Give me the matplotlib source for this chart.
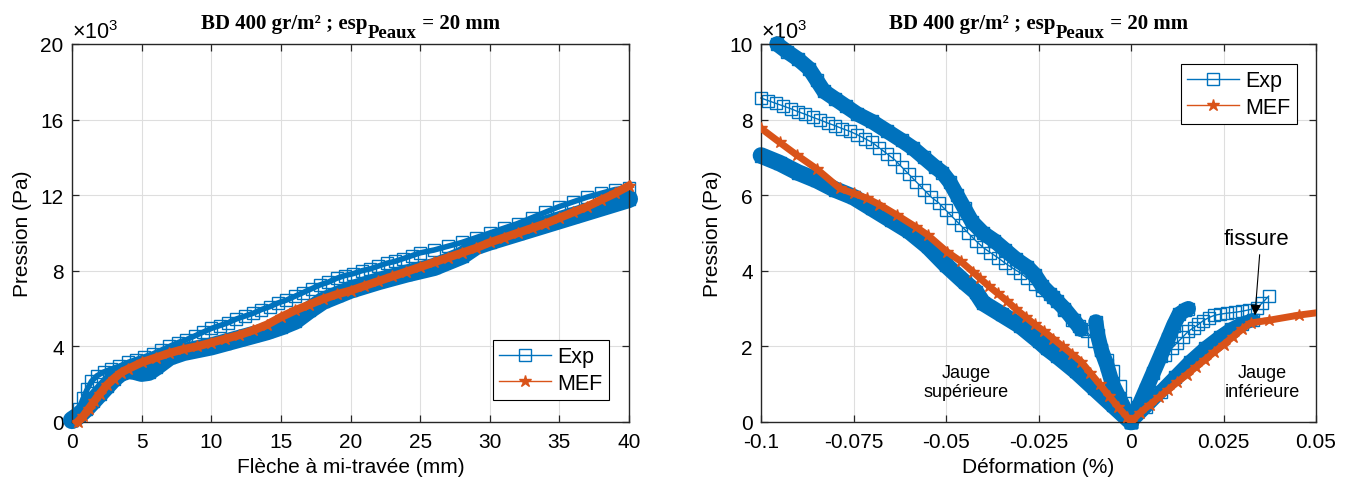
import matplotlib
matplotlib.use("Agg")
import matplotlib.pyplot as plt
from matplotlib.lines import Line2D
from matplotlib.ticker import FuncFormatter

plt.rcParams['font.family'] = ['Liberation Sans', 'DejaVu Sans']
plt.rcParams['mathtext.fontset'] = 'custom'
plt.rcParams['mathtext.rm'] = 'Liberation Sans'

BLUE = '#0072BD'
ORANGE = '#D95319'
DARK = '#262626'

# ---------------- left chart : pression vs fleche (mm, Pa) ----------------
exp_up_x = [0.2, 0.5, 0.8, 1.1, 1.4, 1.8, 2.3, 2.8, 3.4, 4.0, 4.6, 5.2, 5.8, 6.4, 7.0,
            7.6, 8.2, 8.8, 9.4, 10.0, 10.6, 11.2, 11.8, 12.4, 13.0, 13.6, 14.2, 14.8,
            15.4, 16.0, 16.6, 17.2, 17.8, 18.4, 19.0, 19.6, 20.2, 20.8, 21.4, 22.0,
            22.6, 23.2, 23.8, 24.4, 25.0, 26.0, 27.0, 28.0, 29.0, 30.0, 31.0, 32.0,
            33.0, 34.0, 35.0, 36.0, 37.0, 38.0, 39.0, 40.0]
exp_up_y = [200, 700, 1250, 1750, 2150, 2450, 2650, 2800, 2950, 3150, 3300, 3450, 3600,
            3800, 4000, 4200, 4350, 4550, 4750, 4950, 5100, 5250, 5450, 5600, 5750, 5950,
            6100, 6300, 6450, 6650, 6850, 7050, 7250, 7400, 7600, 7750, 7850, 8000, 8100,
            8250, 8400, 8500, 8650, 8800, 8950, 9100, 9300, 9500, 9750, 10000, 10250,
            10500, 10800, 11100, 11400, 11650, 11900, 12100, 12300, 12400]

exp_low_x = [0, 0.5, 1, 1.5, 2, 2.5, 3, 3.5, 4, 4.5, 5, 5.5, 6, 7, 8, 9, 10, 11, 12, 13,
             14, 15, 16, 17, 18, 19, 20, 22, 24, 26, 28, 29, 30, 32, 34, 36, 38, 40]
exp_low_y = [100, 350, 700, 1100, 1500, 1900, 2300, 2600, 2750, 2700, 2600, 2650, 2900,
             3450, 3700, 3850, 4000, 4200, 4400, 4600, 4800, 5050, 5350, 5900, 6400, 6700,
             7000, 7450, 7850, 8200, 8800, 9300, 9550, 10000, 10450, 10900, 11350, 11800]

mef_g_x = [0.4, 0.8, 1.2, 1.6, 2.0, 2.5, 3, 3.5, 4, 5, 6, 7, 8, 9, 10, 11, 12, 13, 14, 15,
           16, 17, 18, 19, 20, 21, 22, 23, 24, 25, 26, 27, 28, 29, 30, 31, 32, 33, 34, 35,
           36, 37, 38, 39, 40]
mef_g_y = [0, 300, 700, 1100, 1500, 1950, 2300, 2600, 2800, 3150, 3400, 3650, 3850, 4000,
           4200, 4400, 4600, 4850, 5150, 5550, 5900, 6200, 6500, 6750, 6950, 7200, 7450,
           7700, 7950, 8200, 8450, 8700, 8950, 9200, 9500, 9750, 10000, 10250, 10500,
           10800, 11100, 11400, 11750, 12100, 12500]

# ---------------- right chart : pression vs deformation (%, Pa) ----------------
exp_sup1_x = [-0.0957, -0.093, -0.09, -0.087, -0.085, -0.083, -0.08, -0.077, -0.074, -0.07,
              -0.066, -0.062, -0.059, -0.056, -0.053, -0.051, -0.049, -0.047, -0.045,
              -0.043, -0.04, -0.037, -0.034, -0.031, -0.028, -0.026, -0.024, -0.021,
              -0.018, -0.0155, -0.0135]
exp_sup1_y = [10000, 9800, 9600, 9350, 9050, 8750, 8550, 8350, 8150, 7950, 7700, 7450,
              7250, 7000, 6750, 6600, 6350, 6000, 5650, 5300, 5000, 4800, 4550, 4300,
              4100, 3900, 3600, 3300, 3000, 2700, 2450]
exp_sup2_x = [-0.0095, -0.009, -0.008, -0.0065, -0.005, -0.003, -0.0015, 0]
exp_sup2_y = [2650, 2300, 1900, 1500, 1000, 600, 300, 0]

exp_sup3_x = [-0.1, -0.098, -0.096, -0.094, -0.092, -0.09, -0.088, -0.086, -0.084, -0.082,
              -0.08, -0.078, -0.076, -0.074, -0.072, -0.07, -0.068, -0.066, -0.064,
              -0.062, -0.06, -0.058, -0.056, -0.054, -0.052, -0.05, -0.048, -0.046,
              -0.044, -0.042, -0.04, -0.038, -0.036, -0.034, -0.032, -0.03, -0.028,
              -0.026, -0.024, -0.022, -0.02, -0.018, -0.016, -0.014, -0.012, -0.01,
              -0.008, -0.0065, -0.005, -0.003, -0.0015, 0]
exp_sup3_y = [8570, 8500, 8430, 8360, 8290, 8210, 8140, 8060, 7990, 7910, 7840, 7760, 7690,
              7600, 7500, 7400, 7250, 7100, 6950, 6750, 6550, 6350, 6150, 5950, 5800,
              5600, 5400, 5200, 5000, 4800, 4620, 4480, 4350, 4200, 4070, 3950, 3800,
              3650, 3500, 3380, 3200, 2950, 2700, 2550, 2400, 2150, 1900, 1650, 1350,
              950, 500, 0]

exp_sup4_x = [-0.1, -0.095, -0.09, -0.085, -0.08, -0.075, -0.07, -0.065, -0.06, -0.055,
              -0.05, -0.045, -0.042, -0.04, -0.035, -0.03, -0.025, -0.0227, -0.02,
              -0.015, -0.01, -0.005, 0]
exp_sup4_y = [7050, 6850, 6600, 6400, 6150, 5950, 5650, 5350, 5050, 4650, 4150, 3700,
              3450, 3150, 2850, 2550, 2150, 1950, 1750, 1350, 900, 450, 0]

exp_inf1_x = [0, 0.002, 0.004, 0.006, 0.008, 0.010, 0.0115, 0.013, 0.0145, 0.0155]
exp_inf1_y = [0, 400, 850, 1300, 1750, 2200, 2550, 2850, 2950, 3000]
exp_inf2_x = [0, 0.004, 0.008, 0.012, 0.016, 0.02, 0.024, 0.027, 0.03, 0.033]
exp_inf2_y = [0, 400, 800, 1200, 1600, 1950, 2250, 2450, 2600, 2700]
exp_inf3_x = [0.0093, 0.011, 0.0125, 0.014, 0.0155, 0.017, 0.0182, 0.0195, 0.021, 0.0225,
              0.024, 0.026, 0.028, 0.03, 0.032, 0.034, 0.0355, 0.0372]
exp_inf3_y = [1760, 1950, 2100, 2250, 2400, 2500, 2580, 2680, 2760, 2820, 2850, 2880,
              2900, 2930, 2970, 3020, 3150, 3330]

mef_d_x = [-0.1, -0.095, -0.0903, -0.085, -0.0787, -0.075, -0.0714, -0.068, -0.0632,
           -0.058, -0.055, -0.0497, -0.046, -0.0427, -0.0408, -0.0385, -0.036, -0.0335,
           -0.031, -0.0285, -0.026, -0.0235, -0.021, -0.0185, -0.016, -0.0135, -0.011,
           -0.0085, -0.006, -0.0035, -0.001, 0, 0.0025, 0.005, 0.0075, 0.01, 0.0125,
           0.015, 0.0175, 0.02, 0.0225, 0.025, 0.0275, 0.03, 0.0323, 0.0372, 0.0455,
           0.055]
mef_d_y = [7770, 7400, 7060, 6700, 6180, 6050, 5920, 5750, 5470, 5150, 4950, 4500, 4250,
           3970, 3800, 3600, 3400, 3200, 2980, 2780, 2580, 2400, 2200, 2000, 1800, 1600,
           1300, 1000, 700, 400, 120, 0, 250, 450, 650, 850, 1050, 1250, 1450, 1650,
           1850, 2050, 2250, 2450, 2620, 2690, 2830, 2950]

xt_left = [0, 5, 10, 15, 20, 25, 30, 35, 40]
yt_left = [0, 4000, 8000, 12000, 16000, 20000]
xt_right = [-0.1, -0.075, -0.05, -0.025, 0, 0.025, 0.05]
xt_right_lab = ['-0.1', '-0.075', '-0.05', '-0.025', '0', '0.025', '0.05']
yt_right = [0, 2000, 4000, 6000, 8000, 10000]


def band(ax, x, y, lw):
    ax.plot(x, y, '-', color=BLUE, lw=lw, solid_capstyle='round',
            solid_joinstyle='round', clip_on=False, zorder=2)
    ax.plot(x, y, 's', ms=8, mfc='none', mec=BLUE, mew=1, clip_on=False, zorder=2)


def chain(ax, x, y, lw=1):
    ax.plot(x, y, '-s', color=BLUE, lw=lw, ms=8.5, mfc='none', mew=1, clip_on=False,
            zorder=2)


def mef(ax, x, y, lw, clip):
    ax.plot(x, y, '-*', color=ORANGE, lw=lw, ms=9, mew=1, clip_on=clip, zorder=3)


def style(ax):
    ax.grid(True, color='#dedede', lw=0.8)
    ax.set_axisbelow(True)
    for s in ax.spines.values():
        s.set_color(DARK)
        s.set_linewidth(1)
    ax.tick_params(direction='in', top=True, right=True, length=5, width=0.9,
                   labelsize=15, colors=DARK, labelcolor='black')
    ax.tick_params(axis='x', pad=7)
    ax.tick_params(axis='y', pad=6)
    ax.yaxis.set_major_formatter(FuncFormatter(lambda v, p: '%g' % (v / 1000)))
    ax.text(0.0, 1.003, r'$\times\mathregular{10^{3}}$', transform=ax.transAxes,
            ha='left', va='bottom', fontsize=15.5, zorder=0)


def title(fig, ax):
    r = fig.canvas.get_renderer()
    kw = dict(fontfamily='Liberation Serif', fontweight='bold', color='black',
              transform=None, va='baseline', ha='left')
    t1 = fig.text(0, 0, 'BD 400 gr/m² ; esp', fontsize=15, **kw)
    t2 = fig.text(0, 0, 'Peaux', fontsize=13.5, **kw)
    t3 = fig.text(0, 0, ' = 20 mm', fontsize=15, **kw)
    w1 = t1.get_window_extent(r).width
    w2 = t2.get_window_extent(r).width
    w3 = t3.get_window_extent(r).width
    bb = ax.get_window_extent(r)
    x0 = (bb.x0 + bb.x1) / 2 - (w1 + w2 + w3) / 2
    y0 = bb.y1 + 16
    t1.set_position((x0, y0))
    t2.set_position((x0 + w1, y0 - 9))
    t3.set_position((x0 + w1 + w2, y0))


fig = plt.figure(figsize=(13.56, 4.89), dpi=100)
ax1 = fig.add_axes([72 / 1356, 1 - 423 / 489, 557 / 1356, 378 / 489])
ax2 = fig.add_axes([761 / 1356, 1 - 423 / 489, 555 / 1356, 378 / 489])

# left
band(ax1, exp_low_x, exp_low_y, 13)
chain(ax1, exp_up_x, exp_up_y, lw=4)
mef(ax1, mef_g_x, mef_g_y, 6, False)
ax1.set_xlim(0, 40)
ax1.set_ylim(0, 20000)
ax1.set_xticks(xt_left)
ax1.set_yticks(yt_left)
style(ax1)
ax1.set_xlabel('Flèche à mi-travée (mm)', fontsize=15)
ax1.set_ylabel('Pression (Pa)', fontsize=15)
ax1.xaxis.set_label_coords(0.5, -0.092)
ax1.yaxis.set_label_coords(-0.072, 0.5)

# right
band(ax2, exp_sup1_x, exp_sup1_y, 11)
band(ax2, exp_sup2_x, exp_sup2_y, 11)
chain(ax2, exp_sup3_x, exp_sup3_y)
band(ax2, exp_sup4_x, exp_sup4_y, 12)
band(ax2, exp_inf1_x, exp_inf1_y, 11)
band(ax2, exp_inf2_x, exp_inf2_y, 10)
chain(ax2, exp_inf3_x, exp_inf3_y)
mef(ax2, mef_d_x, mef_d_y, 5, True)
ax2.set_xlim(-0.1, 0.05)
ax2.set_ylim(0, 10000)
ax2.set_xticks(xt_right)
ax2.set_xticklabels(xt_right_lab)
ax2.set_yticks(yt_right)
style(ax2)
ax2.set_xlabel('Déformation (%)', fontsize=15)
ax2.set_ylabel('Pression (Pa)', fontsize=15)
ax2.xaxis.set_label_coords(0.5, -0.092)
ax2.yaxis.set_label_coords(-0.070, 0.5)

ax2.text(-0.0446, 1060, 'Jauge\nsupérieure', ha='center', va='center', fontsize=13,
         linespacing=1.1)
ax2.text(0.0354, 1060, 'Jauge\ninférieure', ha='center', va='center', fontsize=13,
         linespacing=1.1)
ax2.annotate('fissure', xy=(0.0335, 2820), xytext=(0.034, 4850), ha='center', va='center',
             fontsize=16,
             arrowprops=dict(arrowstyle='-|>', color='black', lw=0.8, mutation_scale=16,
                             relpos=(0.55, 0), shrinkA=2, shrinkB=0))

handles = [Line2D([0], [0], color=BLUE, lw=1, marker='s', ms=8, mfc='none', mew=1),
           Line2D([0], [0], color=ORANGE, lw=1, marker='*', ms=9, mew=1)]
for ax, loc, anchor in [(ax1, 'lower right', (0.964, 0.058)),
                        (ax2, 'upper right', (0.966, 0.947))]:
    leg = ax.legend(handles, ['Exp', 'MEF'], loc=loc, bbox_to_anchor=anchor,
                    borderaxespad=0, fontsize=15.5, fancybox=False, framealpha=1,
                    edgecolor='black', handlelength=2.4, handletextpad=0.3,
                    borderpad=0.3, labelspacing=0.25)
    leg.get_frame().set_linewidth(0.8)
    leg.set_zorder(10)

fig.canvas.draw()
title(fig, ax1)
title(fig, ax2)

fig.savefig('out.png', dpi=100)
